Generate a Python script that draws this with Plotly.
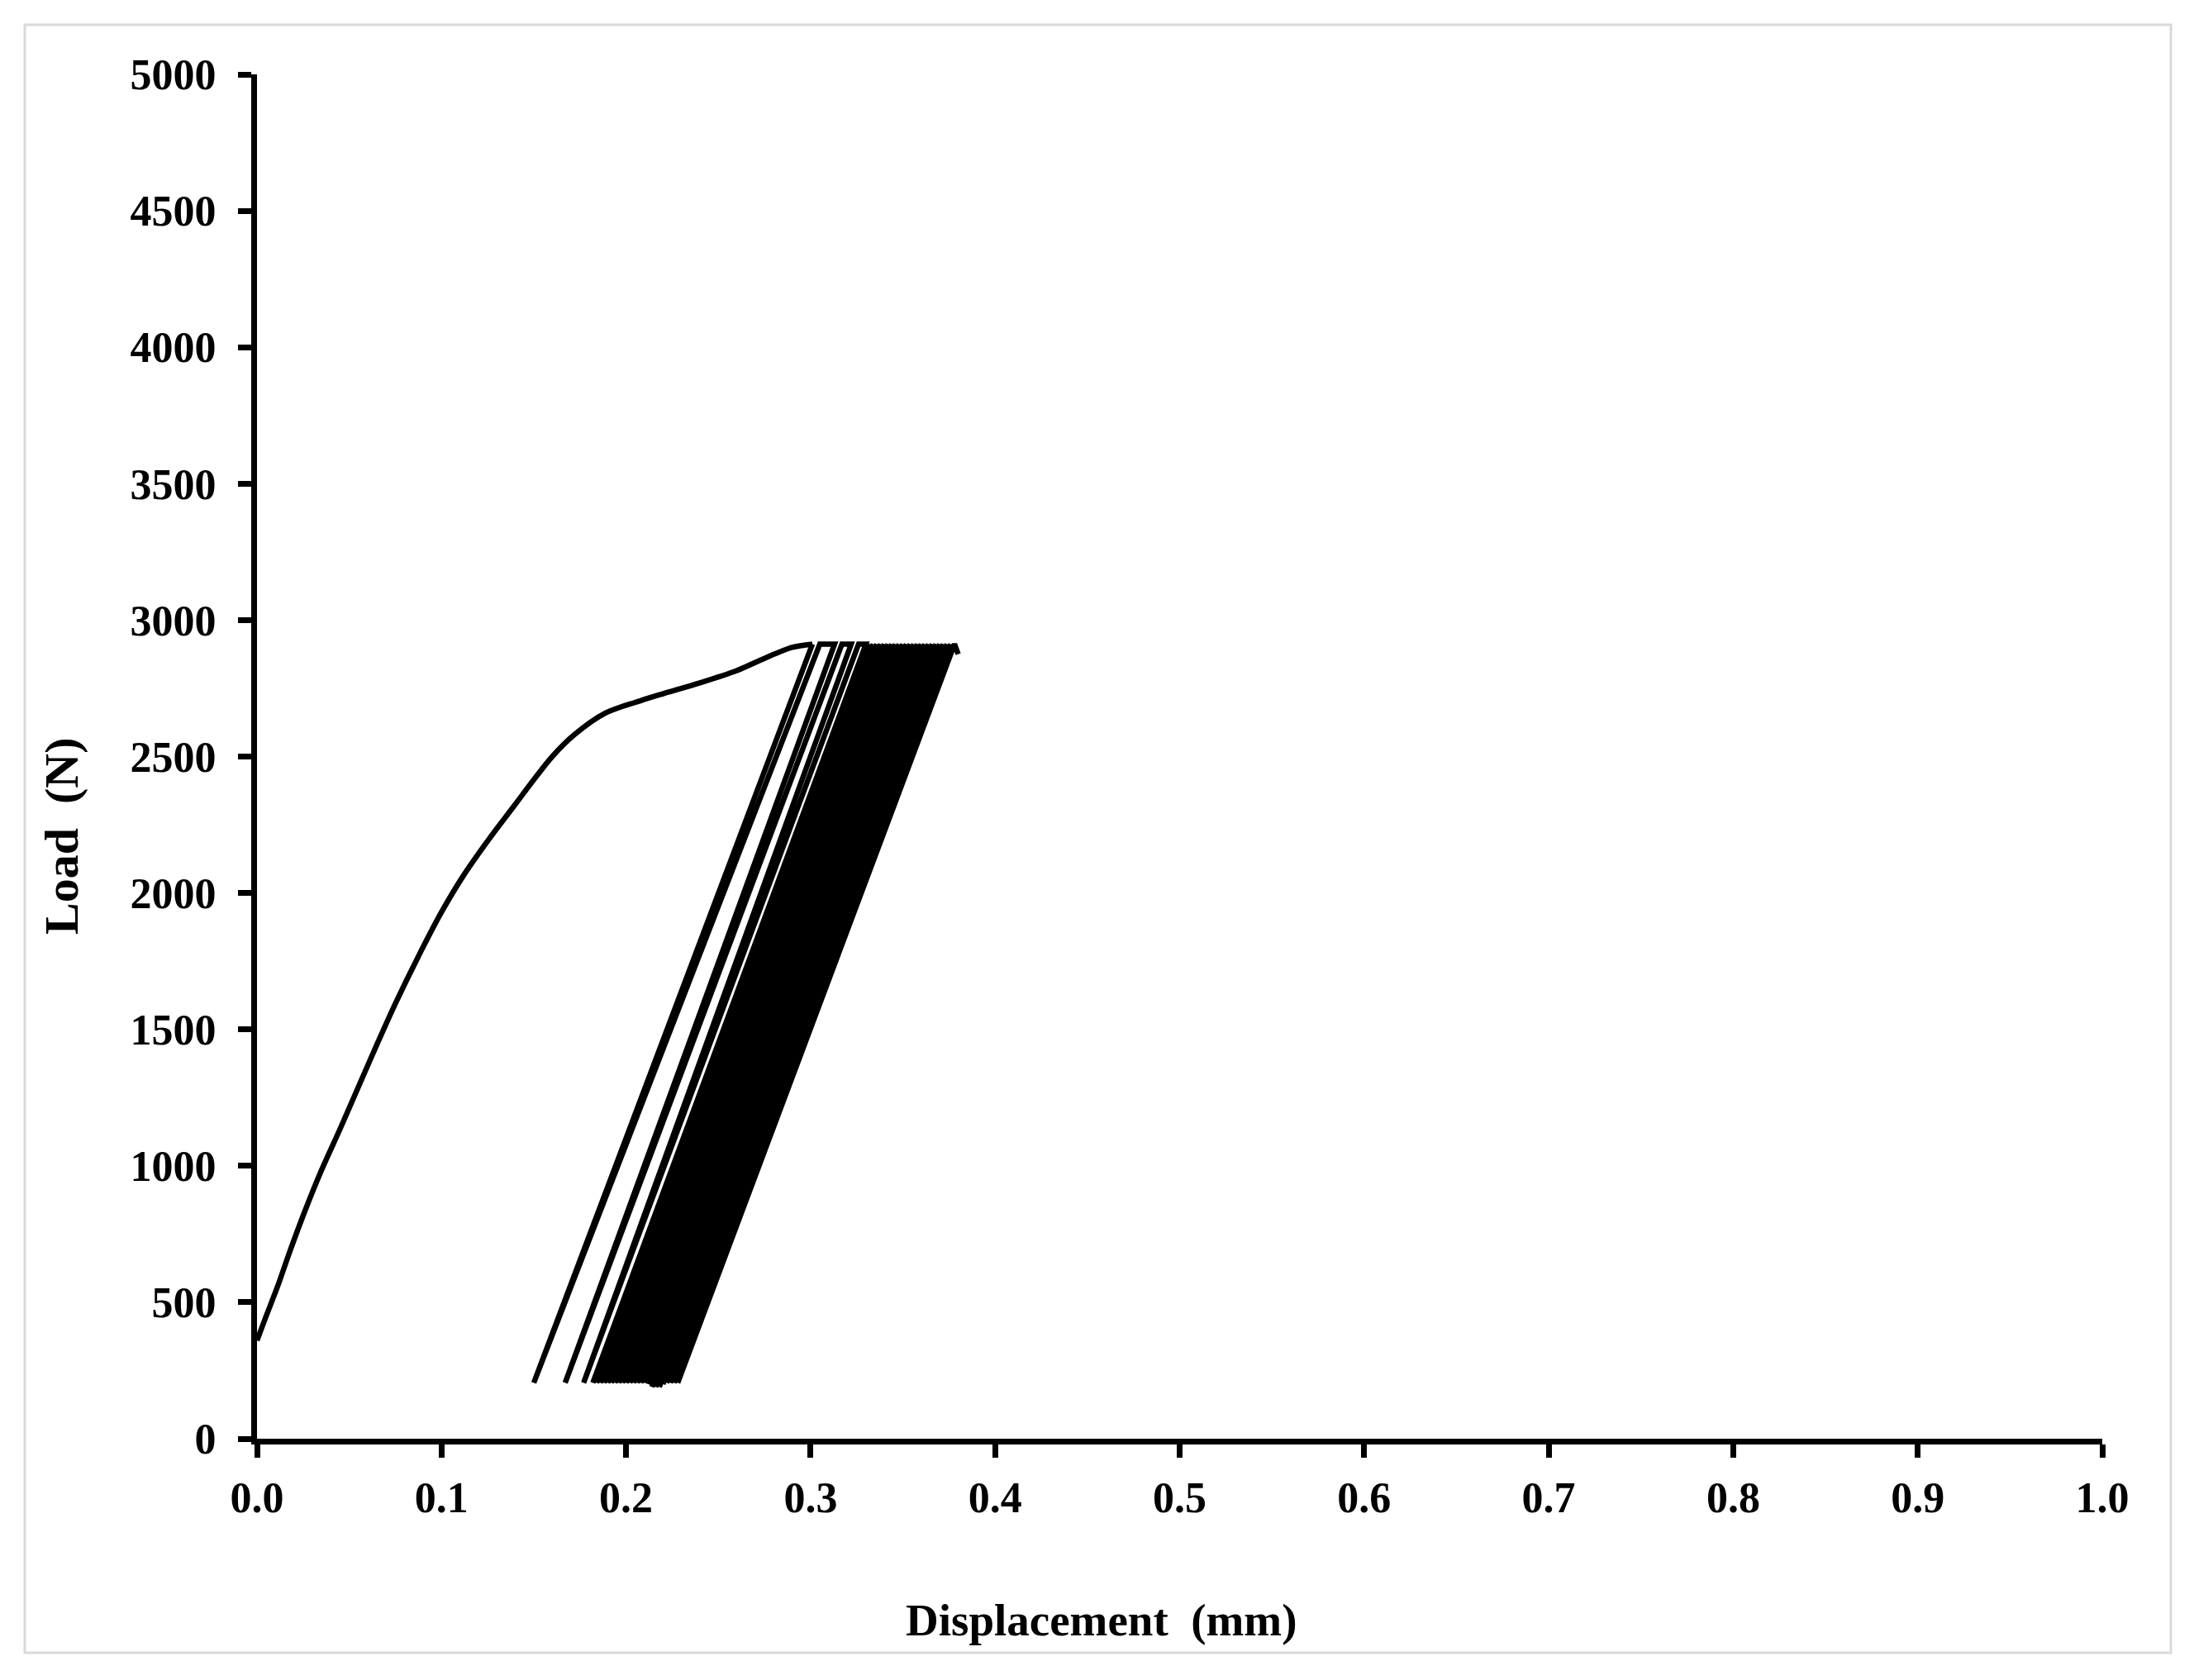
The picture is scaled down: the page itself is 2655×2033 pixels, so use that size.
import plotly.graph_objects as go

# Monotonic first loading branch (displacement mm, load N)
disp_mono = [0.000, 0.005, 0.011, 0.018, 0.026, 0.035, 0.045, 0.055, 0.065, 0.075,
             0.088, 0.100, 0.112, 0.126, 0.140, 0.150, 0.160, 0.172, 0.189, 0.208,
             0.220, 0.240, 0.260, 0.275, 0.290, 0.301]
load_mono = [360, 450, 555, 690, 835, 985, 1135, 1290, 1445, 1595,
             1775, 1930, 2065, 2200, 2325, 2415, 2500, 2580, 2660, 2705,
             2730, 2770, 2815, 2860, 2900, 2912]

# Cyclic loading: max load, per-cycle unload start / valley / reload end
peak_load = 2912
unload_top = [0.301, 0.313, 0.322, 0.330, 0.332, 0.334, 0.336, 0.338, 0.340, 0.342,
              0.344, 0.346, 0.348, 0.350, 0.352, 0.354, 0.356, 0.358, 0.360, 0.362,
              0.364, 0.366, 0.368, 0.370, 0.372, 0.374, 0.376]
valley_disp = [0.150, 0.167, 0.177, 0.182, 0.184, 0.186, 0.188, 0.190, 0.192, 0.194,
               0.196, 0.198, 0.200, 0.202, 0.204, 0.206, 0.208, 0.210, 0.212, 0.214,
               0.216, 0.218, 0.220, 0.222, 0.224, 0.226, 0.228]
valley_load = [205, 205, 205, 205, 205, 205, 205, 205, 205, 205,
               205, 205, 205, 205, 205, 205, 205, 205, 200, 190,
               190, 190, 200, 205, 205, 205, 205]
reload_top = [0.305, 0.317, 0.326, 0.332, 0.334, 0.336, 0.338, 0.340, 0.342, 0.344,
              0.346, 0.348, 0.350, 0.352, 0.354, 0.356, 0.358, 0.360, 0.362, 0.364,
              0.366, 0.368, 0.370, 0.372, 0.374, 0.376, 0.378]
end_disp, end_load = 0.380, 2875

x_ticks = [0.0, 0.1, 0.2, 0.3, 0.4, 0.5, 0.6, 0.7, 0.8, 0.9, 1.0]
y_ticks = [0, 500, 1000, 1500, 2000, 2500, 3000, 3500, 4000, 4500, 5000]

cyc_x, cyc_y = [], []
for u, v, vl, r in zip(unload_top, valley_disp, valley_load, reload_top):
    cyc_x += [u, v, r]
    cyc_y += [peak_load, vl, peak_load]
cyc_x.append(end_disp)
cyc_y.append(end_load)

FONT = "Times New Roman, Liberation Serif, serif"

fig = go.Figure()
fig.add_trace(go.Scatter(x=disp_mono, y=load_mono, mode="lines",
                         line=dict(color="black", width=6.5, shape="spline", smoothing=0.8),
                         showlegend=False))
fig.add_trace(go.Scatter(x=cyc_x, y=cyc_y, mode="lines",
                         line=dict(color="black", width=6.5), showlegend=False))

# plot area (figure px); page adds an 8px body margin
W, H = 2655, 2033
L, R, T, B = 303, 119, 82, 300
pw, ph = W - L - R, H - T - B

def px(xp):
    return (xp - 8 - L) / pw

def py(yp):
    return (H - B - (yp - 8)) / ph

# light grey frame around the whole chart
fig.add_shape(type="rect", xref="paper", yref="paper",
              x0=px(30), x1=px(2627), y0=py(2000), y1=py(30),
              line=dict(color="#d9d9d9", width=3), fillcolor="rgba(0,0,0,0)", layer="below")

fig.add_annotation(text="Displacement  (mm)", xref="paper", yref="paper",
                   x=px(1333), y=py(1960), showarrow=False, xanchor="center", yanchor="middle",
                   font=dict(family=FONT, size=55, color="black", weight="bold"))
fig.add_annotation(text="Load  (N)", xref="paper", yref="paper", textangle=-90,
                   x=px(74), y=py(1012), showarrow=False, xanchor="center", yanchor="middle",
                   font=dict(family=FONT, size=58, color="black", weight="bold"))

fig.update_layout(
    width=W, height=H,
    margin=dict(l=L, r=R, t=T, b=B),
    paper_bgcolor="white", plot_bgcolor="white",
    font=dict(family=FONT, size=52, color="black", weight="bold"),
    showlegend=False,
)
fig.update_xaxes(range=[0, 1], tickvals=x_ticks, tickformat=".1f",
                 showline=True, linecolor="black", linewidth=7,
                 ticks="outside", ticklen=16, tickwidth=7, tickcolor="black",
                 showgrid=False, zeroline=False, ticklabelstandoff=4)
fig.update_yaxes(range=[0, 5000], tickvals=y_ticks,
                 showline=True, linecolor="black", linewidth=7,
                 ticks="outside", ticklen=16, tickwidth=7, tickcolor="black",
                 showgrid=False, zeroline=False, ticklabelstandoff=16)

fig.write_html("out.html")
